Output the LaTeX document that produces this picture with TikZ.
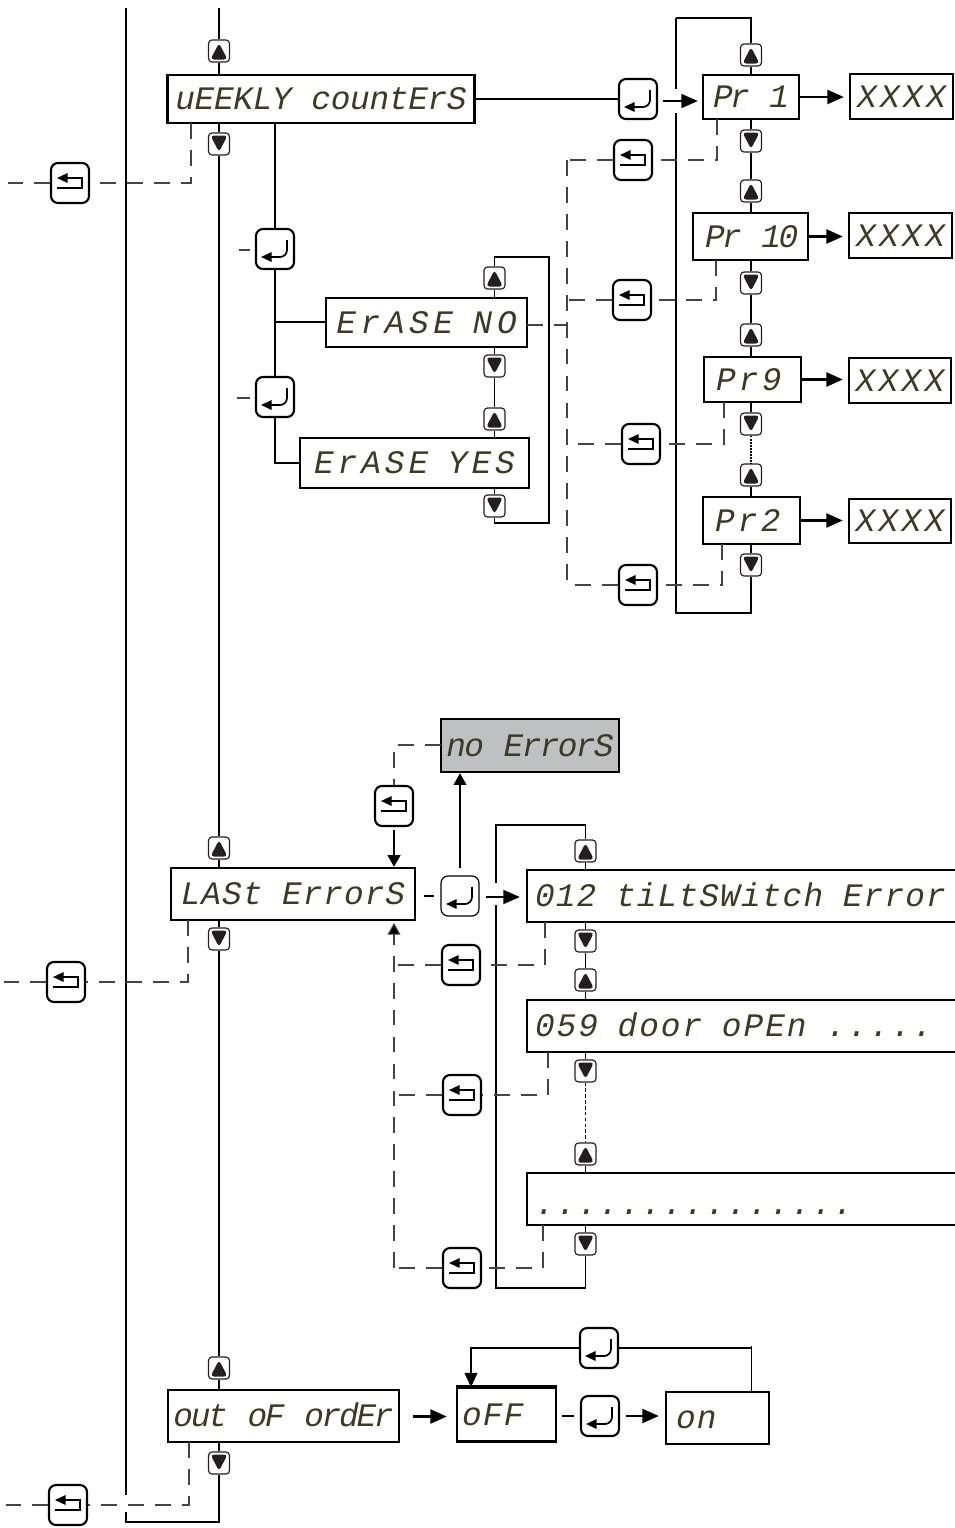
\documentclass[tikz,border=0pt]{standalone}
\usepackage{fontspec}
\usepackage{tikz}
\usetikzlibrary{arrows.meta,calc}
\newfontfamily\lcdfont{Liberation Mono}
\definecolor{lcdink}{HTML}{3B3A22}
\definecolor{lcdgrey}{HTML}{BFC0C2}
\definecolor{keyink}{HTML}{231F20}
\definecolor{backink}{HTML}{444444}
\def\px{0.03cm}
\newsavebox{\lcdcell}
\newcommand{\lcd}[2]{{\addfontfeature{LetterSpace=#1}\sbox{\lcdcell}{x}\spaceskip=\wd\lcdcell\relax #2}}
\tikzset{
  lcdbox/.style={draw=black,line width=2.1pt,fill=white,inner sep=0pt,text=lcdink,
    font=\lcdfont\fontsize{28}{30}\selectfont\itshape,text height=18.5pt,text depth=0pt},
  keybox/.style={draw=black,line width=1.8pt,rounded corners=6pt,fill=white,inner sep=0pt,
    minimum width=38*\px,minimum height=40*\px},
  backkey/.style={keybox,path picture={
    \draw[line width=1.5pt,-{Triangle[length=9pt,width=8pt]},shift={(path picture bounding box.center)}]
      (-13,5)--(5,5) .. controls (12,5) and (12,-5) .. (5,-5)--(-13,-5);}},
  enterkey/.style={keybox,path picture={
    \draw[line width=1.5pt,-{Triangle[length=9pt,width=8pt]},shift={(path picture bounding box.center)}]
      (12,-9)--(12,8)--(-14,8);}},
  arrowkey/.style={draw=keyink,line width=1pt,rounded corners=3pt,fill=white,inner sep=0pt,
    minimum width=21*\px,minimum height=22*\px},
  upkey/.style={arrowkey,path picture={
    \fill[keyink,shift={(path picture bounding box.center)}] (0,-8)--(8.5,8.5)--(-8.5,8.5)--cycle;}},
  downkey/.style={arrowkey,path picture={
    \fill[keyink,shift={(path picture bounding box.center)}] (0,8)--(8.5,-8.5)--(-8.5,-8.5)--cycle;}},
  wire/.style={line width=1.6pt},
  thinwire/.style={line width=0.9pt},
  backln/.style={draw=backink,line width=1pt,dash pattern=on 13.5pt off 9.5pt},
  bigtip/.style={line width=1.8pt,-{Triangle[length=14pt,width=12pt]}},
  midtip/.style={line width=1pt,-{Triangle[length=10pt,width=11pt]}},
}
\begin{document}
\begin{tikzpicture}[>=Stealth,x=0.03cm,y=-0.03cm]
	\useasboundingbox (0,0) rectangle (955,1528);
	% weekly counters
	\node[lcdbox,minimum width=307*\px,minimum height=48*\px] (wk) at (321,99) {\lcd{-1}{uEEKLY countErS}};
	\node[lcdbox,minimum width=96*\px,minimum height=44*\px,text width=76*\px,align=left] (pra) at (751,97) {\lcd{-8}{Pr~1}};
	\node[lcdbox,minimum width=115*\px,minimum height=47*\px,text width=91*\px,align=left] (prb) at (750.5,236.5) {\lcd{-8}{Pr~10}};
	\node[lcdbox,minimum width=97*\px,minimum height=45*\px,text width=73*\px,align=left] (prc) at (752.5,379.5) {\lcd{10}{Pr9}};
	\node[lcdbox,minimum width=97*\px,minimum height=47*\px,text width=73*\px,align=left] (prd) at (751.5,520.5) {\lcd{10}{Pr2}};
	\foreach \n/\x/\y/\w/\h in {xa/901.5/96.5/103/45,xb/900.5/235.5/103/45,xc/900/380.5/102/45,xd/900/521/102/44}{
		\node[lcdbox,minimum width=\w*\px,minimum height=\h*\px] (\n) at (\x,\y) {\lcd{10}{XXXX}};
	}
	\node[lcdbox,minimum width=201*\px,minimum height=49*\px] (erno) at (426.5,322.5) {\lcd{14}{ErASE NO}};
	\node[lcdbox,minimum width=229*\px,minimum height=50*\px] (eryes) at (414.5,463) {\lcd{12}{ErASE YES}};
	% last errors
	\node[lcdbox,minimum width=244*\px,minimum height=52*\px] (last) at (293,894) {\lcd{3}{LASt ErrorS}};
	\node[lcdbox,fill=lcdgrey,minimum width=178*\px,minimum height=53*\px] (noerr) at (530,745.5) {\lcd{-5}{no ErrorS}};
	\node[lcdbox,minimum width=440*\px,minimum height=52*\px,text width=424*\px,align=left] (erra) at (747,896) {\lcd{3.5}{012 tiLtSWitch Error}};
	\node[lcdbox,minimum width=440*\px,minimum height=52*\px,text width=424*\px,align=left] (errb) at (747,1026) {\lcd{6}{059 door oPEn .....}};
	\node[lcdbox,minimum width=440*\px,minimum height=52*\px,text width=424*\px,align=left,text height=25.6pt] (errc) at (747,1199) {\lcd{5}{...............}};
	% out of order
	\node[lcdbox,minimum width=231*\px,minimum height=52*\px] (out) at (283.5,1416) {\lcd{-7}{out oF ordEr}};
	\node[lcdbox,minimum width=99*\px,minimum height=54*\px,text width=89*\px,align=left] (off) at (506.5,1414.5) {\lcd{4}{oFF}};
	\node[lcdbox,minimum width=103*\px,minimum height=52*\px,text width=83*\px,align=left] (on) at (717.5,1418) {\lcd{4}{on}};
	% up and down keys
	\foreach \n/\x/\y in {upa/219/51,upb/751/55,upc/751/191,upd/751/335,upe/751/475,upf/494.5/278,upg/494.5/419,
		uph/219/848,upi/585.5/851,upj/585.5/980,upk/585.5/1154,upl/219/1368}{
		\node[upkey] (\n) at (\x,\y) {};
	}
	\foreach \n/\x/\y in {dnaa/219/144,dnb/751/141,dnc/751/283,dnd/751/424,dne/751/565,dnf/494.5/366,dng/494.5/506,
		dnh/219/939,dni/585.5/941,dnj/585.5/1071,dnk/585.5/1244,dnl/219/1463}{
		\node[downkey] (\n) at (\x,\y) {};
	}
	% back and enter keys
	\foreach \n/\x/\y in {bka/70/183,bkb/633/160,bkc/632/300,bkd/641/444,bke/638/585,bkf/394/806,bkg/461/965,
		bkh/66/982,bki/462/1095,bkj/462/1268,bkk/68/1505}{
		\node[backkey] (\n) at (\x,\y) {};
	}
	\foreach \n/\x/\y in {ena/638/99,enb/275/249,enc/275/397,ene/599/1348,enf/600/1416}{
		\node[enterkey] (\n) at (\x,\y) {};
	}
	\node[enterkey,line width=1pt] (end) at (460,896) {};
	% free ends and tapping points
	\foreach \n/\x/\y in {top/219/8,railtop/126/8,railgapa/126/1495,railgapb/126/1512,railfoot/126/1522,mainfoot/219/1522,
		loopa/676/18,gapa/676/89,gapb/676/113,loopafoot/676/613,
		ertop/549/257,erfoot/549/523,
		loopb/496/825,gapc/496/883,gapd/496/905,loopbfoot/496/1288,
		wkenter/275/123,erbranch/275/322,
		colr/567/160,colrfoot/567/585,ernotap/527/325,
		prataap/717/119,prbtap/716/260,prctap/724/402,prdtap/722/544,
		wktap/191/123,lasttap/188/920,outtap/189/1442,
		bkaend/8/183,bkhend/4/982,bkkend/6/1505,
		enbend/239/250,encend/237/398,
		noerrtap/441/745,
		colf/394/923,colffoot/394/1268,
		erratap/545/922,errbtap/548/1052,errctap/543/1225,
		ontap/751.5/1392,ontop/751.5/1346,offin/471/1387}{
		\coordinate (\n) at (\x,\y);
	}
	% main rail
	\draw[wire] (top) -- (upa);
	\foreach \k/\b in {upa/wk,uph/last,upl/out}{
		\draw[wire] (\k) -- (\k |- \b.north);
	}
	\foreach \k/\b in {dnaa/wk,dnh/last,dnl/out}{
		\draw[wire] (\k) -- (\k |- \b.south);
	}
	\draw[wire] (dnaa) -- (uph);
	\draw[wire] (dnh) -- (upl);
	\draw[wire] (dnl) -- (mainfoot) -- (railfoot) -- (railgapb);
	\draw[wire] (railgapa) -- (railtop);
	% weekly counters wiring
	\draw[wire,line width=1.8pt] (wk.east |- ena) -- (ena);
	\draw[bigtip,line width=1.3pt] ($(ena.east)+(5,2)$) -- ($(pra.west |- ena)+(-4,2)$);
	\draw[wire] (loopa) -- (gapa);
	\draw[wire] (gapb) -- (loopafoot) -- (dne |- loopafoot) -- (dne);
	\draw[wire] (loopa) -- (upb |- loopa) -- (upb);
	\foreach \k/\b in {upb/pra,upc/prb,upd/prc,upe/prd,upf/erno,upg/eryes}{
		\draw[wire] (\k) -- (\k |- \b.north);
	}
	\foreach \k/\b in {dnb/pra,dnc/prb,dnd/prc,dne/prd,dnf/erno,dng/eryes}{
		\draw[wire] (\k) -- (\k |- \b.south);
	}
	\draw[wire] (dnb) -- (upc);
	\draw[wire] (dnc) -- (upd);
	\draw[wire,densely dotted] (dnd) -- (upe);
	\draw[wire] (dnf) -- (upg);
	\draw[wire] (upf) |- (ertop) -- (erfoot) -| (dng);
	\foreach \a/\b in {pra/xa,prb/xb,prc/xc,prd/xd}{
		\draw[bigtip] (\a.east) -- ($(\b.west |- \a.east)+(-5,0)$);
	}
	\draw[wire] (wkenter) -- (enb);
	\draw[wire] (enb) -- (enc);
	\draw[wire] (erbranch) -- (erbranch -| erno.west);
	\draw[wire] (enc) |- (eryes);
	\draw[backln,shorten <=4pt] (enb.west |- enbend) -- (enbend);
	\draw[backln,shorten <=4pt] (enc.west |- encend) -- (encend);
	\draw[backln] (wktap) |- (bka);
	\draw[backln] (bka) -- (bkaend);
	\draw[backln] (colr) -- (colrfoot);
	\draw[backln] (ernotap) -- (ernotap -| colr);
	\foreach \a/\b in {prataap/bkb,prbtap/bkc,prctap/bkd,prdtap/bke}{
		\draw[backln] (\a) |- (\b);
		\draw[backln] (\b) -- (\b -| colr);
	}
	% last errors wiring
	\draw[backln] (lasttap) |- (bkh);
	\draw[backln] (bkh) -- (bkhend);
	\draw[backln] (noerrtap) -| (bkf);
	\draw[midtip,line width=1.4pt] ($(bkf.south)+(0,3)$) -- (bkf |- last.north);
	\draw[line width=1.3pt,-] (last.east |- end) ++(8,0) -- ($(end.west)+(-6,0)$);
	\draw[midtip,line width=1pt] ($(end.north)+(0,-7)$) -- (end |- noerr.south);
	\draw[bigtip,line width=1.2pt] ($(end.east)+(6,1)$) -- ($(erra.west |- end)+(-6,1)$);
	\draw[wire] (gapc) -- (loopb) -- (upi |- loopb) -- (upi);
	\draw[wire] (gapd) -- (loopbfoot) -- (dnk |- loopbfoot) -- (dnk);
	\foreach \k/\b in {upi/erra,upj/errb,upk/errc}{
		\draw[wire] (\k) -- (\k |- \b.north);
	}
	\foreach \k/\b in {dni/erra,dnj/errb,dnk/errc}{
		\draw[wire] (\k) -- (\k |- \b.south);
	}
	\draw[wire] (dni) -- (upj);
	\draw[thinwire,densely dashed] (dnj) -- (upk);
	\draw[backln,-{Triangle[length=10pt,width=11pt,fill=black]}] (colffoot) -- (colf);
	\foreach \a/\b in {erratap/bkg,errbtap/bki,errctap/bkj}{
		\draw[backln] (\a) |- (\b);
		\draw[backln] (\b) -- (\b -| colf);
	}
	% out of order wiring
	\draw[backln] (outtap) |- (bkk);
	\draw[backln] (bkk) -- (bkkend);
	\draw[bigtip] ($(out.east |- off)+(13,2)$) -- ($(off.west)+(-9,2)$);
	\draw[line width=1.3pt] ($(enf.west)+(-6,0)$) -- ($(enf.west)+(-18,0)$);
	\draw[bigtip] ($(enf.east)+(6,0)$) -- ($(on.west |- enf)+(-6,0)$);
	\draw[thinwire] (ontap) -- (ontop);
	\draw[thinwire] (ontop |- ene) -- (ene);
	\draw[thinwire,-{Triangle[length=12pt,width=11pt]}] (ene) -| (offin);
	\draw[line width=3pt] (off.north west) -- (off.north east);
\end{tikzpicture}
\end{document}
